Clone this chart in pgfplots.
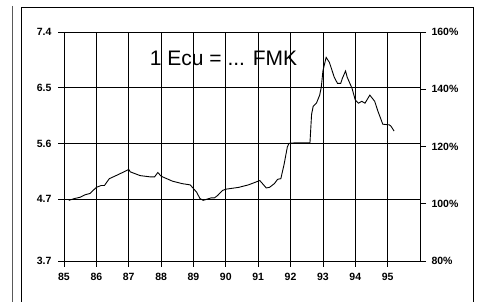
\documentclass[border=0pt]{standalone}
\usepackage{pgfplots}
\pgfplotsset{compat=1.18}
\usepackage{fontspec}
\setmainfont{Liberation Sans}
\begin{document}
\begin{tikzpicture}[x=1pt,y=1pt]
\useasboundingbox (0,0) rectangle (477,302);
% frames
\draw[line width=1pt] (21,-2) -- (21,294) -- (473,294) -- (473,-2);
\draw[line width=0.6pt,gray!70!black] (12,296) -- (12,-2);
\begin{axis}[
  at={(64pt,41pt)}, anchor=south west,
  scale only axis, width=356pt, height=229pt,
  xmin=85, xmax=96, ymin=3.7, ymax=7.4,
  xtick={85,86,...,95}, ytick={3.7,4.7,5.6,6.5,7.4},
  y tick label style={/pgf/number format/fixed,/pgf/number format/fixed zerofill,/pgf/number format/precision=1, xshift=-3pt},
  xticklabels={85,86,87,88,89,90,91,92,93,94,95},
  /pgf/number format/assume math mode=true,
  tick label style={font=\bfseries\fontsize{10.5}{12}\selectfont},
  grid=major, major grid style={black,line width=0.8pt},
  axis line style={black,line width=0.8pt},
  tick style={black,line width=0.8pt},
  tick align=outside, major tick length=6pt,
  xtick pos=bottom, ytick pos=left,
  x tick label style={yshift=-3pt},
  clip=false,
]
\addplot[black, line width=0.9pt] coordinates {
(85.15,4.68) (85.33,4.71) (85.5,4.73) (85.65,4.77) (85.8,4.79) (85.9,4.84)
(86.0,4.89) (86.15,4.92) (86.25,4.92) (86.4,5.03) (86.65,5.09) (86.85,5.14)
(87.0,5.18) (87.05,5.14) (87.35,5.08) (87.65,5.06) (87.8,5.06) (87.9,5.13)
(88.0,5.07) (88.35,4.99) (88.65,4.95) (88.9,4.93) (89.0,4.87) (89.1,4.81)
(89.2,4.71) (89.3,4.68) (89.55,4.72) (89.65,4.72) (89.75,4.76) (89.9,4.84)
(90.0,4.86) (90.4,4.89) (90.7,4.93) (90.9,4.97) (91.05,5.0) (91.15,4.94)
(91.25,4.88) (91.35,4.89) (91.5,4.95) (91.6,5.02) (91.7,5.03) (91.8,5.26)
(91.9,5.54) (91.95,5.6) (92.15,5.61) (92.6,5.61) (92.65,6.07) (92.7,6.2)
(92.8,6.25) (92.9,6.38) (92.95,6.51) (93.0,6.77) (93.1,6.99) (93.2,6.91)
(93.35,6.67) (93.45,6.57) (93.55,6.57) (93.6,6.65) (93.7,6.77) (93.75,6.67)
(93.9,6.49) (94.0,6.3) (94.1,6.25) (94.2,6.28) (94.3,6.25) (94.45,6.38)
(94.6,6.28) (94.7,6.12) (94.85,5.91) (95.05,5.9) (95.1,5.88) (95.2,5.8)
};
\node[font=\fontsize{21}{24}\selectfont, inner sep=0pt] at (axis cs:89.93,6.98) {1 Ecu = ... FMK};
\end{axis}
\begin{axis}[
  at={(64pt,41pt)}, anchor=south west,
  scale only axis, width=356pt, height=229pt,
  xmin=85, xmax=96, ymin=80, ymax=160,
  ytick={80,100,120,140,160},
  yticklabel={\pgfmathprintnumber{\tick}\%},
  /pgf/number format/assume math mode=true,
  tick label style={font=\bfseries\fontsize{10.5}{12}\selectfont},
  axis x line=none, axis y line*=right,
  axis line style={black,line width=0.8pt},
  tick style={black,line width=0.8pt},
  tick align=outside, major tick length=6pt,
  y tick label style={xshift=2pt},
]
\addplot[draw=none] coordinates {(85,100)};
\end{axis}
\end{tikzpicture}
\end{document}
